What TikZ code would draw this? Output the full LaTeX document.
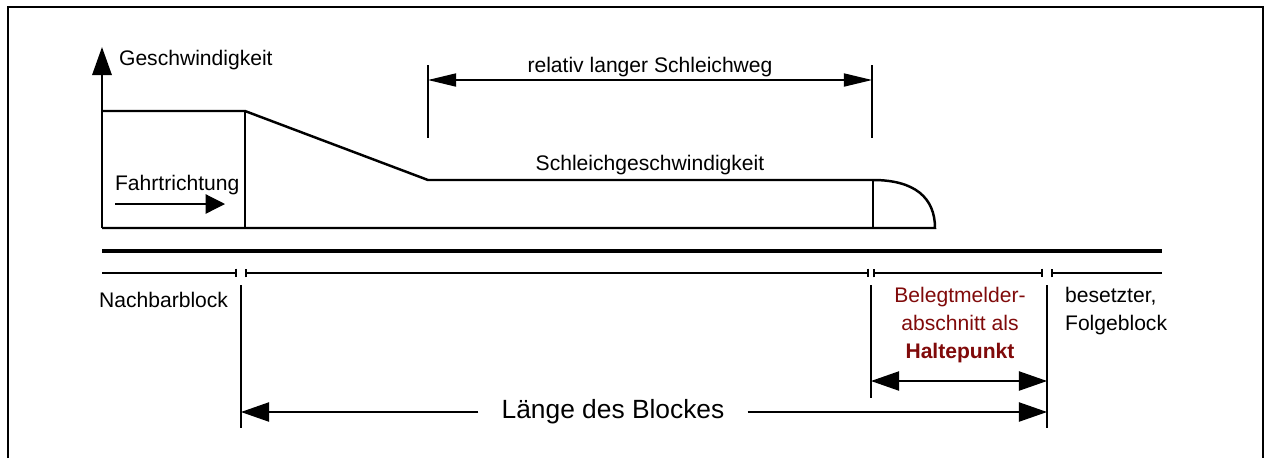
\documentclass[tikz,border=0pt]{standalone}
\usepackage{fontspec}
\setmainfont{Liberation Sans}
\usepackage{xcolor}
\definecolor{haltrot}{RGB}{128,10,10}
\usetikzlibrary{arrows.meta,positioning,calc}

\begin{document}
\begin{tikzpicture}[
  x=0.02cm, y=-0.02cm,
  thinline/.style={line width=0.7pt},
  profil/.style={line width=1.4pt},
  bigtip/.tip={Triangle[length=16pt,width=11pt]},
  dimtip/.tip={Triangle[length=16pt,width=7.5pt]},
  blockseg/.style={line width=0.9pt},
  txt/.style={font=\fontsize{12}{16}\selectfont,inner sep=1pt},
]
  \useasboundingbox (0,0) rectangle (1268,458);
  \draw[thinline] (8,458) -- (8,7) -- (1263,7) -- (1263,458);

  % Geschwindigkeitsprofil
  \coordinate (p0) at (102,228);
  \coordinate (p1) at (102,111);
  \coordinate (p2) at (245,111);
  \coordinate (p3) at (428,180);
  \coordinate (p4) at (873,180);
  \coordinate (p5) at (935,228);
  \coordinate (axtop) at (102,47);
  \draw[profil,-{bigtip}] (p0) -- (axtop);
  \draw[profil] (p1) -- (p2) -- (p3) -- (p4)
    .. controls (915,180) and (935,198) .. (p5) -- (p0);
  \draw[thinline] (p2) -- (p2 |- p0);
  \draw[thinline] (p4) -- (p4 |- p0);

  \node[txt,anchor=west](geschw) at (117,60) {Geschwindigkeit};
  \node[txt,anchor=west](fahrt) at (113,185) {Fahrtrichtung};
  \coordinate (fa) at (115,204);
  \coordinate (fb) at (225,204);
  \draw[thinline,-{Triangle[length=11pt,width=11pt]}] (fa) -- (fb);
  \node[txt](schleichg) at (650,165) {Schleichgeschwindigkeit};

  % Schleichweg
  \coordinate (sa) at (428,65);
  \coordinate (sb) at (872,65);
  \draw[thinline] (sa) -- ++(0,73);
  \draw[thinline] (sb) -- ++(0,73);
  \draw[thinline,{dimtip}-{dimtip}] ($(sa)+(0,15)$) -- ($(sb)+(0,15)$);
  \node[txt](schleichweg) at (650,67) {relativ langer Schleichweg};

  % Gleis und Bloecke
  \coordinate (gl) at (102,251);
  \coordinate (gr) at (1162,251);
  \draw[line width=2.8pt] (gl) -- (gr);
  \draw[blockseg,-{Bar[width=5pt]}] (102,273) -- (237,273);
  \foreach \a/\b in {245/869,873/1043}
    \draw[blockseg,{Bar[width=5pt]}-{Bar[width=5pt]}] (\a,273) -- (\b,273);
  \draw[blockseg,{Bar[width=5pt]}-] (1051,273) -- (1162,273);

  \node[txt,anchor=west](nachbar) at (97,300) {Nachbarblock};
  \node[txt,anchor=north,align=center,text=haltrot](beleg) at (960,285)
    {Belegtmelder-\\abschnitt als\\\textbf{Haltepunkt}};
  \node[txt,anchor=north west,align=left](folge) at (1063,285)
    {besetzter,\\Folgeblock};

  \coordinate (ba) at (241,285);
  \coordinate (bb) at (871,285);
  \coordinate (bc) at (1047,285);
  \draw[thinline] (ba) -- (241,428);
  \draw[thinline] (bb) -- (871,398);
  \draw[thinline] (bc) -- (1047,428);

  \draw[thinline,{bigtip}-{bigtip}] (871,381) -- (1047,381);

  \node[font=\fontsize{15}{18}\selectfont,inner xsep=13pt](laenge) at (613,412)
    {Länge des Blockes};
  \draw[thinline,-{bigtip}] (laenge.west) -- (241,412);
  \draw[thinline,-{bigtip}] (laenge.east) -- (1047,412);
\end{tikzpicture}
\end{document}
